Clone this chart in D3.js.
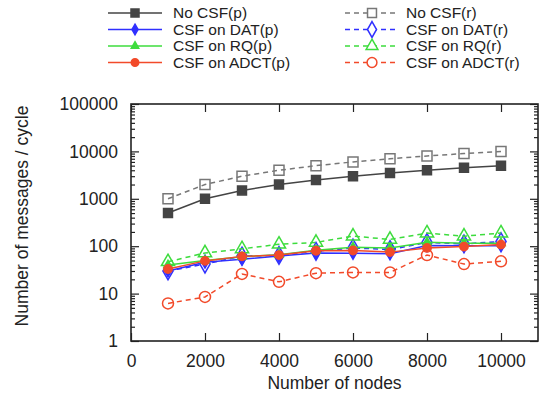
<!DOCTYPE html>
<html>
<head>
<meta charset="utf-8">
<script src="https://cdn.jsdelivr.net/npm/d3@7"></script>
<style>
  body { margin: 0; background: #fff; }
  svg { display: block; font-family: "Liberation Sans", Arial, sans-serif; }
</style>
</head>
<body>
<div id="chart"></div>
<script>
// data
const nodes = [1000, 2000, 3000, 4000, 5000, 6000, 7000, 8000, 9000, 10000];
const noCsfP = [500, 1000, 1500, 2000, 2500, 3000, 3500, 4000, 4500, 5000];
const datP = [30, 46, 53, 62, 72, 71, 69, 103, 102, 102];
const rqP = [40, 50, 60, 66, 82, 95, 92, 121, 116, 116];
const adctP = [33, 49, 61, 65, 80, 81, 75, 92, 98, 108];
const noCsfR = [1000, 2000, 3000, 4000, 5000, 6000, 7000, 8000, 9000, 10000];
const datR = [30, 42, 62, 64, 78, 92, 85, 120, 112, 125];
const rqR = [47, 72, 88, 110, 120, 163, 139, 189, 163, 189];
const adctR = [6.2, 8.5, 26, 17.7, 27, 28, 28, 65, 42, 48];

const xTicks = [0, 2000, 4000, 6000, 8000, 10000];
const yTicks = [1, 10, 100, 1000, 10000, 100000];

const width = 545, height = 397;
const margin = { top: 104, right: 7, bottom: 56, left: 131 };

const gray = '#444', lightGray = '#777', blue = '#3030ff', green = '#3ddc3d', red = '#f24a2a';

const series = [
  { name: 'No CSF(p)', values: noCsfP, color: gray, dash: null, shape: d3.symbolSquare, size: 80, fill: true },
  { name: 'CSF on DAT(p)', values: datP, color: blue, dash: null, shape: d3.symbolDiamond, size: 40, fill: true },
  { name: 'CSF on RQ(p)', values: rqP, color: green, dash: null, shape: d3.symbolTriangle, size: 30, fill: true },
  { name: 'CSF on ADCT(p)', values: adctP, color: red, dash: null, shape: d3.symbolCircle, size: 55, fill: true },
  { name: 'No CSF(r)', values: noCsfR, color: lightGray, dash: '5,4', shape: d3.symbolSquare, size: 100, fill: false },
  { name: 'CSF on DAT(r)', values: datR, color: blue, dash: '5,4', shape: d3.symbolDiamond, size: 90, fill: false },
  { name: 'CSF on RQ(r)', values: rqR, color: green, dash: '5,4', shape: d3.symbolTriangle, size: 75, fill: false },
  { name: 'CSF on ADCT(r)', values: adctR, color: red, dash: '5,4', shape: d3.symbolCircle, size: 95, fill: false }
];

const svg = d3.select('#chart').append('svg')
  .attr('width', width)
  .attr('height', height);

const x = d3.scaleLinear().domain([0, 11000]).range([margin.left, width - margin.right]);
const y = d3.scaleLog().domain([1, 100000]).range([height - margin.bottom, margin.top]);

const minor = [];
for (let d = 1; d < 100000; d *= 10) {
  for (let k = 2; k <= 9; k++) minor.push(d * k);
}

// minor ticks, left and right
svg.append('g')
  .attr('transform', `translate(${margin.left},0)`)
  .call(d3.axisLeft(y).tickValues(minor).tickSize(-4).tickFormat(''))
  .call(g => g.select('.domain').remove());
svg.append('g')
  .attr('transform', `translate(${width - margin.right},0)`)
  .call(d3.axisRight(y).tickValues(minor).tickSize(-4).tickFormat(''))
  .call(g => g.select('.domain').remove());

// major y ticks
svg.append('g')
  .attr('transform', `translate(${margin.left},0)`)
  .call(d3.axisLeft(y).tickValues(yTicks).tickSizeInner(-8).tickSizeOuter(0).tickPadding(13).tickFormat(d3.format('d')))
  .call(g => g.select('.domain').remove())
  .call(g => g.selectAll('text').attr('font-size', 17.5).attr('fill', '#222').attr('font-family', '"Liberation Sans", Arial, sans-serif'));
svg.append('g')
  .attr('transform', `translate(${width - margin.right},0)`)
  .call(d3.axisRight(y).tickValues(yTicks).tickSize(-8).tickFormat(''))
  .call(g => g.select('.domain').remove());

// x ticks, bottom and top
svg.append('g')
  .attr('transform', `translate(0,${height - margin.bottom})`)
  .call(d3.axisBottom(x).tickValues(xTicks).tickSizeInner(-8).tickSizeOuter(0).tickPadding(14).tickFormat(d3.format('d')))
  .call(g => g.select('.domain').remove())
  .call(g => g.selectAll('text').attr('font-size', 17.5).attr('fill', '#222').attr('font-family', '"Liberation Sans", Arial, sans-serif'));
svg.append('g')
  .attr('transform', `translate(0,${margin.top})`)
  .call(d3.axisTop(x).tickValues(xTicks).tickSize(-8).tickFormat(''))
  .call(g => g.select('.domain').remove());

svg.selectAll('.tick line').attr('stroke', '#222').attr('stroke-width', 1.2);

// frame
svg.append('rect')
  .attr('x', margin.left)
  .attr('y', margin.top)
  .attr('width', width - margin.right - margin.left)
  .attr('height', height - margin.bottom - margin.top)
  .attr('fill', 'none')
  .attr('stroke', '#222')
  .attr('stroke-width', 1.6);

// axis titles
svg.append('text')
  .attr('x', (margin.left + width - margin.right) / 2)
  .attr('y', 389)
  .attr('text-anchor', 'middle')
  .attr('font-size', 17.5)
  .attr('fill', '#222')
  .text('Number of nodes');

svg.append('text')
  .attr('transform', `translate(28,216) rotate(-90)`)
  .attr('text-anchor', 'middle')
  .attr('font-size', 17.5)
  .attr('fill', '#222')
  .text('Number of messages / cycle');

const line = d3.line()
  .x((d, i) => x(nodes[i]))
  .y(d => y(d));

const plot = svg.append('g');

// draw r first, then p on top
const order = [4, 5, 6, 7, 0, 1, 2, 3];
order.forEach(k => {
  const s = series[k];
  const g = plot.append('g');
  g.append('path')
    .datum(s.values)
    .attr('fill', 'none')
    .attr('stroke', s.color)
    .attr('stroke-width', 1.5)
    .attr('stroke-dasharray', s.dash)
    .attr('d', line);
  g.selectAll('path.mark')
    .data(s.values)
    .join('path')
      .attr('class', 'mark')
      .attr('transform', (d, i) => `translate(${x(nodes[i])},${y(d)})`)
      .attr('d', d3.symbol().type(s.shape).size(s.size))
      .attr('fill', s.fill ? s.color : 'none')
      .attr('stroke', s.color)
      .attr('stroke-width', 1.5);
});

// legend
const legend = svg.append('g').attr('font-size', 15.5).attr('fill', '#222');
series.forEach((s, i) => {
  const col = i < 4 ? 0 : 1;
  const row = i % 4;
  const x0 = col === 0 ? 108 : 345;
  const yy = 13 + row * 16.5;
  const g = legend.append('g');
  g.append('line')
    .attr('x1', x0).attr('x2', x0 + 54)
    .attr('y1', yy).attr('y2', yy)
    .attr('stroke', s.color)
    .attr('stroke-width', 1.5)
    .attr('stroke-dasharray', s.dash);
  g.append('path')
    .attr('transform', `translate(${x0 + 27},${yy})`)
    .attr('d', d3.symbol().type(s.shape).size(s.size * 0.8))
    .attr('fill', s.fill ? s.color : '#fff')
    .attr('stroke', s.color)
    .attr('stroke-width', 1.5);
  g.append('text')
    .attr('x', col === 0 ? 173 : 406)
    .attr('y', yy)
    .attr('dy', '0.35em')
    .attr('textLength', null)
    .text(s.name);
});
</script>
</body>
</html>
